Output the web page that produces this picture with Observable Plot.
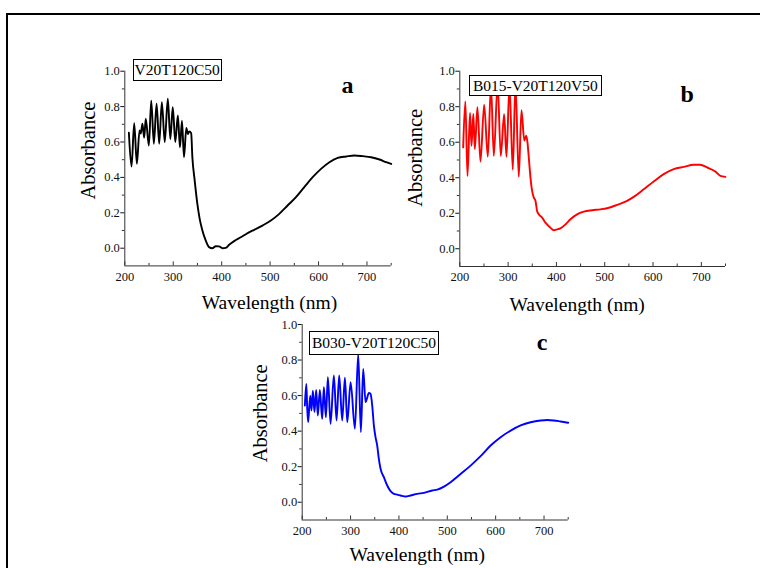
<!DOCTYPE html>
<html>
<head>
<meta charset="utf-8">
<script src="https://cdn.jsdelivr.net/npm/d3@7"></script>
<script src="https://cdn.jsdelivr.net/npm/@observablehq/plot@0.6"></script>
<style>
html, body { margin: 0; padding: 0; background: #fff; overflow: hidden; }
#fig { position: relative; width: 760px; height: 568px; overflow: hidden; font-family: "Liberation Serif", "Times New Roman", serif; background: #fff; }
#fig svg text { font-family: "Liberation Serif", "Times New Roman", serif !important; }
#border { position: absolute; left: 6px; top: 13px; width: 820px; height: 700px; border: 2px solid #000; box-sizing: border-box; }
.panel { position: absolute; left: 0; top: 0; }
.tag { position: absolute; border: 1px solid #000; background: #fff; font-size: 15.5px; box-sizing: border-box; display: flex; align-items: center; justify-content: center; white-space: nowrap; color: #000; }
</style>
</head>
<body>
<div id="fig"><div id="border"></div></div>
<script>
// ---------- data ----------
const panelNames = ["V20T120C50", "B015-V20T120V50", "B030-V20T120C50"];
const panelLetters = ["a", "b", "c"];
const panelColors = ["#000000", "#ff0000", "#0000ff"];

const xMajorTicks = [200, 300, 400, 500, 600, 700];
const xMinorTicks = [250, 350, 450, 550, 650, 750];
const yMajorTicks = [0, 0.2, 0.4, 0.6, 0.8, 1.0];
const yMinorTicks = [0.1, 0.3, 0.5, 0.7, 0.9];

const aWavelength = [208.4, 213.9, 219.4, 224.9, 230.4, 233, 236.4, 240, 243.3, 249.7, 254.6, 260, 265.6, 271, 276.5, 282.5, 288.8, 294, 299, 304.3, 309.5, 313.9, 318, 322.2, 327, 330.4, 333, 337, 339.5, 344.3, 349.8, 354.6, 360.2, 367, 373.9, 380.8, 387.7, 394.6, 401.5, 408.5, 415.4, 425.7, 439.5, 449.8, 467, 484.3, 501.6, 518.9, 536.1, 553.4, 570.6, 587.9, 605.1, 622.4, 639.6, 656.9, 674.1, 691.4, 708.6, 725.9, 739.7, 750];
const aAbsorbance = [0.652, 0.461, 0.706, 0.477, 0.665, 0.648, 0.704, 0.625, 0.732, 0.58, 0.834, 0.59, 0.816, 0.59, 0.825, 0.60, 0.844, 0.617, 0.796, 0.60, 0.75, 0.57, 0.72, 0.514, 0.68, 0.645, 0.66, 0.65, 0.514, 0.382, 0.25, 0.166, 0.10, 0.044, 0.006, 0.0, 0.011, 0.01, 0.0, 0.002, 0.019, 0.04, 0.062, 0.079, 0.104, 0.128, 0.156, 0.194, 0.241, 0.288, 0.345, 0.401, 0.448, 0.486, 0.51, 0.518, 0.524, 0.52, 0.514, 0.501, 0.486, 0.476];

const bWavelength = [207, 211.5, 215.9, 221.2, 224.2, 228, 231.1, 236.5, 242.8, 250.4, 258, 264.5, 270.4, 278.3, 284.8, 291.8, 296.6, 302.8, 309.7, 315.2, 322.1, 327.6, 333.5, 337.5, 340, 342.8, 346.3, 349.7, 353.2, 356.6, 360, 363.5, 370.4, 377.3, 387.6, 394.5, 401.4, 408.3, 418.7, 429, 442.8, 456.6, 473.9, 491, 504.8, 525.6, 546.3, 560, 580.7, 601.4, 622.1, 642.8, 663.5, 684.1, 697.9, 711.7, 729, 739.4, 749.7];
const bAbsorbance = [0.571, 0.83, 0.41, 0.765, 0.58, 0.759, 0.561, 0.797, 0.491, 0.812, 0.518, 0.92, 0.523, 0.93, 0.523, 0.758, 0.518, 0.92, 0.445, 0.93, 0.405, 0.78, 0.61, 0.637, 0.6, 0.514, 0.401, 0.326, 0.288, 0.27, 0.213, 0.194, 0.175, 0.147, 0.119, 0.104, 0.109, 0.115, 0.137, 0.166, 0.194, 0.209, 0.217, 0.222, 0.228, 0.247, 0.27, 0.292, 0.335, 0.379, 0.42, 0.448, 0.461, 0.473, 0.473, 0.458, 0.435, 0.41, 0.405];

const cWavelength = [205.5, 208.5, 210.3, 212.3, 216.5, 219.2, 222, 225.4, 228.9, 232.3, 236.5, 241.3, 244.8, 249, 253.1, 258.6, 265.5, 271, 276.5, 282.7, 288.3, 293.2, 300.1, 309, 315.8, 321.3, 326.1, 331, 337.9, 341.3, 344.8, 348.2, 351.6, 355.1, 358.5, 362, 368.9, 375.8, 382.7, 389.6, 396.5, 403.4, 413.7, 424.1, 437.9, 451.7, 468.9, 479.3, 493.1, 506.8, 527.5, 548.2, 568.9, 589.6, 610.3, 631, 651.7, 672.3, 693, 706.8, 720.6, 734.4, 750];
const cAbsorbance = [0.544, 0.666, 0.535, 0.45, 0.60, 0.516, 0.628, 0.507, 0.632, 0.488, 0.632, 0.469, 0.647, 0.478, 0.704, 0.441, 0.713, 0.46, 0.713, 0.46, 0.70, 0.45, 0.675, 0.413, 0.835, 0.394, 0.75, 0.563, 0.615, 0.61, 0.544, 0.432, 0.366, 0.319, 0.244, 0.188, 0.141, 0.094, 0.062, 0.047, 0.043, 0.038, 0.032, 0.038, 0.047, 0.053, 0.066, 0.071, 0.088, 0.113, 0.159, 0.206, 0.259, 0.319, 0.366, 0.403, 0.432, 0.45, 0.46, 0.463, 0.46, 0.454, 0.447];

// ---------- layout ----------
const W = 760, H = 568;
const layouts = [
  {left: 124.3, right: 390.7, top: 70.7, bottom: 265.4, yLab: [-36, -18], xLab: [11.5, 36.6], letter: [-43.7, 14.6], tag: {left: 132.7, top: 59.3, width: 89, height: 21.4}},
  {left: 459.3, right: 725, top: 70.7, bottom: 266, yLab: [-44, -11], xLab: [-15.5, 38], letter: [-38.3, 23.3], tag: {left: 469, top: 75, width: 132.7, height: 21}},
  {left: 301.7, right: 567.7, top: 324, bottom: 519.5, yLab: [-41.7, -9], xLab: [-18, 34.5], letter: [-26, 18.3], tag: {left: 309, top: 331, width: 130, height: 24}}
];
const series = [
  [aWavelength, aAbsorbance],
  [bWavelength, bAbsorbance],
  [cWavelength, cAbsorbance]
];

const fig = document.getElementById("fig");

series.forEach(([wl, ab], k) => {
  const L = layouts[k];
  const data = wl.map((w, i) => ({w, a: ab[i]}));
  const chart = Plot.plot({
    width: W,
    height: H,
    marginLeft: L.left,
    marginRight: W - L.right,
    marginTop: L.top,
    marginBottom: H - L.bottom,
    style: {background: "transparent", fontFamily: "'Liberation Serif', 'Times New Roman', serif", fontSize: "12.5px", color: "#111", overflow: "visible"},
    x: {domain: [200, 750], ticks: xMajorTicks, tickSize: 0, tickPadding: 6, tickFormat: d => String(d), label: null},
    y: {domain: [-0.1, 1.0], ticks: yMajorTicks, tickSize: 4, tickPadding: 1, tickFormat: d => d.toFixed(1), label: null},
    marks: [
      Plot.ruleX([200], {stroke: "#333", strokeWidth: 1}),
      Plot.ruleY([-0.1], {stroke: "#333", strokeWidth: 1}),
      Plot.ruleY(yMinorTicks, {y: d => d, x1: 200, x2: 200, insetLeft: -2.5, stroke: "#333"}),
      Plot.ruleX(xMajorTicks, {x: d => d, y1: -0.1, y2: -0.1, insetTop: -4, stroke: "#333"}),
      Plot.ruleX(xMinorTicks, {x: d => d, y1: -0.1, y2: -0.1, insetTop: -2.5, stroke: "#333"}),
      Plot.line(data, {x: "w", y: "a", stroke: panelColors[k], strokeWidth: 1.9, curve: "monotone-x"}),
      Plot.text(["Absorbance"], {frameAnchor: "left", dx: L.yLab[0], dy: L.yLab[1], rotate: -90, fontSize: 20.5, fill: "#000", textAnchor: "middle"}),
      Plot.text(["Wavelength (nm)"], {frameAnchor: "bottom", dx: L.xLab[0], dy: L.xLab[1], fontSize: 19.5, fill: "#000", textAnchor: "middle", lineAnchor: "middle"}),
      Plot.text([panelLetters[k]], {frameAnchor: "top-right", dx: L.letter[0], dy: L.letter[1], fontSize: 24, fontWeight: "bold", fill: "#000", textAnchor: "middle", lineAnchor: "middle"})
    ]
  });
  chart.classList.add("panel");
  chart.style.position = "absolute";
  chart.style.left = "0px";
  chart.style.top = "0px";
  fig.appendChild(chart);

  const tag = document.createElement("div");
  tag.className = "tag";
  tag.textContent = panelNames[k];
  tag.style.left = L.tag.left + "px";
  tag.style.top = L.tag.top + "px";
  tag.style.width = L.tag.width + "px";
  tag.style.height = L.tag.height + "px";
  fig.appendChild(tag);
});
</script>
</body>
</html>
